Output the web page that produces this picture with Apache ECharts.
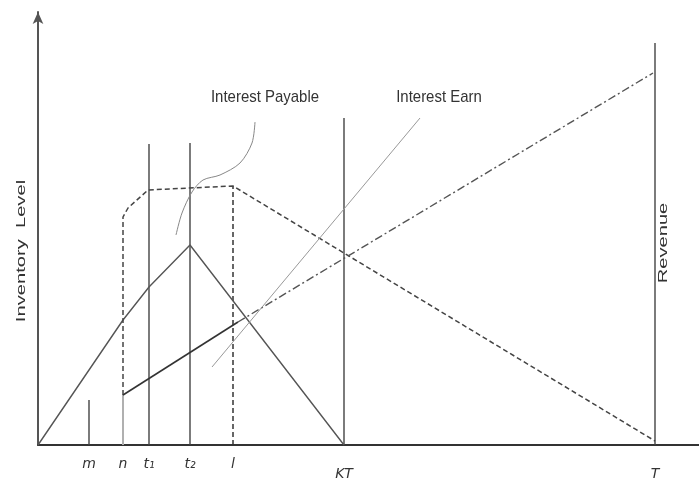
<!DOCTYPE html>
<html>
<head>
<meta charset="utf-8">
<script src="https://cdn.jsdelivr.net/npm/echarts@6/dist/echarts.min.js"></script>
<style>
  html, body { margin: 0; padding: 0; background: #fff; }
  #chart { width: 699px; height: 485px; }
</style>
</head>
<body>
<div id="chart"></div>
<script>
// time marks on the x axis
const tickNames = ['m', 'n', 't₁', 't₂', 'l', 'KT', 'T']
const tickX = [51, 85, 111, 152, 195, 306, 617]
// heights of the vertical guide lines at each mark
const guideTop = [45, 50, 301, 302, 259, 327, 402]

// inventory level (solid triangle)
const stockX = [0, 85, 111, 152, 306]
const stockY = [0, 125, 158, 200, 0]

// dashed inventory path
const dashX = [85, 85, 90, 110, 195, 617]
const dashY = [50, 228, 237, 255, 259, 4]

// revenue line: solid part, then dash-dot part
const revSolidX = [85, 200]
const revSolidY = [50, 123]
const revDotX = [200, 615]
const revDotY = [123, 372]

// pointer lines for the notes
const earnX = [174, 382]
const earnY = [78, 327]
const payX = [138, 144, 154, 165, 182, 202, 214, 217]
const payY = [210, 232, 253, 265, 270, 282, 302, 323]

const pts = (xs, ys) => xs.map((x, i) => [x, ys[i]])

const line = (data, color, width, type, extra) => Object.assign({
  type: 'line',
  data,
  symbol: 'none',
  silent: true,
  animation: false,
  lineStyle: { color, width, type },
}, extra || {})

const series = []

// vertical guides
tickNames.forEach((name, i) => {
  const x = tickX[i]
  if (name === 'n') {
    series.push(line([[x, 0], [x, guideTop[i]]], '#b0b0b0', 2, 'solid'))
  } else if (name === 'l') {
    series.push(line([[x, 0], [x, guideTop[i]]], '#333', 1.5, [5, 3]))
  } else {
    series.push(line([[x, 0], [x, guideTop[i]]], '#444', 1.4, 'solid'))
  }
})

series.push(line(pts(stockX, stockY), '#555', 1.4, 'solid'))
series.push(line(pts(dashX, dashY), '#444', 1.5, [5, 3]))
series.push(line(pts(revSolidX, revSolidY), '#333', 1.6, 'solid'))
series.push(line(pts(revDotX, revDotY), '#555', 1.4, [8, 3, 2, 3]))
series.push(line(pts(earnX, earnY), '#999', 1, 'solid'))
series.push(line(pts(payX, payY), '#888', 1, 'solid', { smooth: 0.3 }))

const chart = echarts.init(document.getElementById('chart'))

const note = (text, x) => ({
  type: 'text', x, y: 97, scaleX: 0.88,
  style: { text, fontSize: 17, fill: '#333', fontFamily: 'Liberation Sans', align: 'center', verticalAlign: 'middle' },
})

chart.setOption({
  backgroundColor: '#fff',
  animation: false,
  grid: { left: 38, right: 0, top: 12, bottom: 40 },
  xAxis: {
    type: 'value',
    min: 0,
    max: 661,
    splitLine: { show: false },
    axisLine: { lineStyle: { color: '#333', width: 2 } },
    axisTick: { show: false },
    axisLabel: {
      customValues: tickX,
      margin: 12,
      fontStyle: 'italic',
      fontSize: 14,
      color: '#333',
      fontFamily: 'DejaVu Sans',
      formatter: (v) => {
        const i = tickX.indexOf(v)
        if (i < 0) return ''
        return i >= 5 ? '{lo|' + tickNames[i] + '}' : tickNames[i]
      },
      rich: {
        lo: { fontSize: 14, fontStyle: 'italic', color: '#333', padding: [10, 0, 0, 0] },
      },
    },
  },
  yAxis: {
    type: 'value',
    min: 0,
    max: 433,
    splitLine: { show: false },
    axisTick: { show: false },
    axisLabel: { show: false },
    axisLine: {
      lineStyle: { color: '#555', width: 2 },
      symbol: ['none', 'arrow'],
      symbolSize: [8, 12],
    },
  },
  graphic: [
    note('Interest Payable', 265),
    note('Interest Earn', 439),
    {
      type: 'text', x: 21, y: 251, rotation: Math.PI / 2, scaleX: 1.55,
      style: { text: 'Inventory  Level', fontSize: 13, fill: '#333', fontFamily: 'Liberation Sans', align: 'center', verticalAlign: 'middle' },
    },
    {
      type: 'text', x: 663, y: 243, rotation: Math.PI / 2, scaleX: 1.55,
      style: { text: 'Revenue', fontSize: 13, fill: '#333', fontFamily: 'Liberation Sans', align: 'center', verticalAlign: 'middle' },
    },
  ],
  series,
})
</script>
</body>
</html>
